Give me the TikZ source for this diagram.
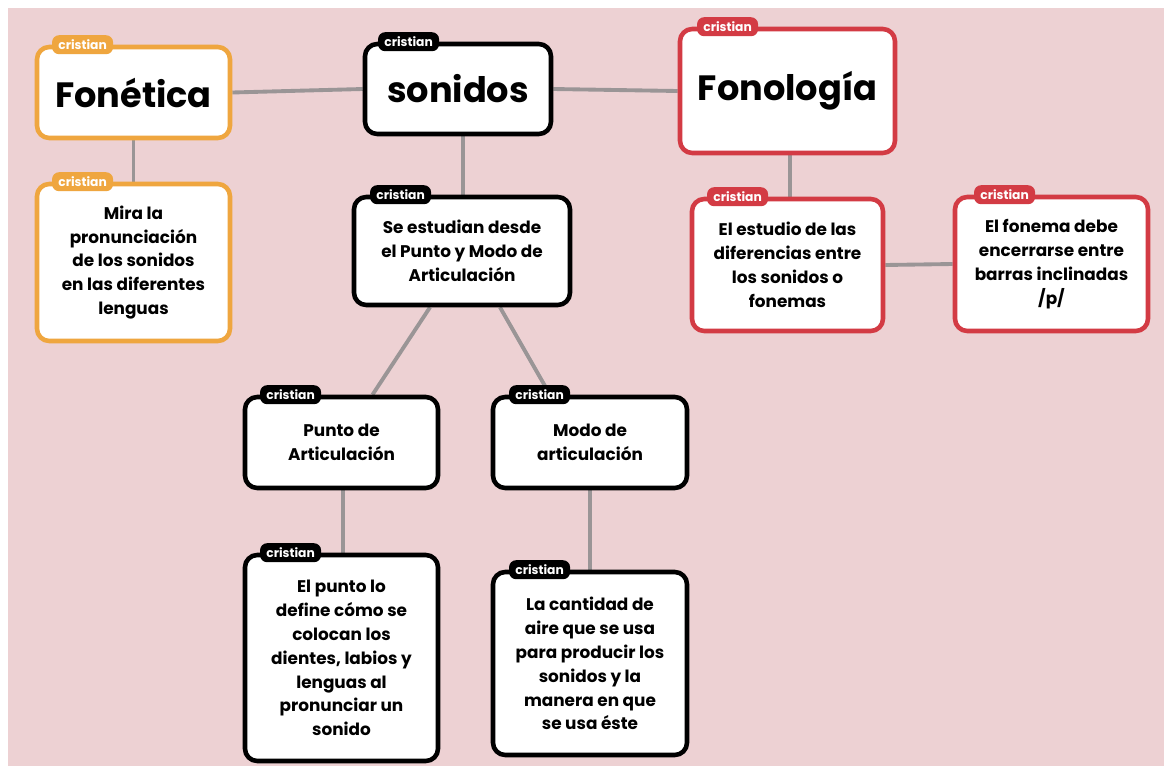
\documentclass[tikz,border=0pt]{standalone}
\usepackage{fontspec}
\setmainfont{Poppins}
\usepackage{tikz}
\usetikzlibrary{
    positioning,
    calc,
    backgrounds,
}

\definecolor{fonorange}{HTML}{EFA63F}
\definecolor{fonred}{HTML}{D33B44}
\definecolor{pinkbg}{HTML}{EDD1D3}
\definecolor{linkgray}{HTML}{9A9596}

\begin{document}
\begin{tikzpicture}[
    concept/.style={draw=#1, fill=white, line width=2.6pt, rounded
    corners=7pt, text=black, align=center, inner sep=2pt,
    font=\bfseries\fontsize{9.6}{13.6}\selectfont},
    headline/.style={concept=#1, font=\bfseries\fontsize{20}{24}\selectfont},
    nametag/.style={fill=#1, rounded corners=4pt, text=white, anchor=west,
    inner sep=1pt, minimum width=1.22cm, minimum height=0.38cm,
    font=\bfseries\fontsize{7}{8}\selectfont},
    link/.style={draw=linkgray, line width=2.2pt},
]

% CANVAS
\useasboundingbox (0,0) rectangle (23.28,-15.32);
\begin{scope}[on background layer]
\fill[white] (0,0) rectangle (23.28,-15.32);
\fill[pinkbg] (0.16,-0.16) rectangle (23.28,-15.32);
\end{scope}

% FONETICA
\node[headline=fonorange, minimum width=3.86cm, minimum height=1.82cm]
    at (2.67,-1.85) (fon) {Fonética};
\node[concept=fonorange, minimum width=3.86cm, minimum height=3.14cm]
    at (2.67,-5.25) (mira) {Mira la\\ pronunciación\\ de los sonidos\\
    en las diferentes\\ lenguas};

% SONIDOS
\node[headline=black, minimum width=3.72cm, minimum height=1.80cm]
    at (9.16,-1.78) (son) {sonidos};
\node[concept=black, minimum width=4.32cm, minimum height=2.16cm]
    at (9.24,-5.02) (estudian) {Se estudian desde\\ el Punto y Modo de\\
    Articulación};

% PUNTO / MODO
\node[concept=black, minimum width=3.86cm, minimum height=1.82cm]
    at (6.83,-8.85) (punto) {Punto de\\ Articulación};
\node[concept=black, minimum width=3.88cm, minimum height=1.82cm]
    at (11.80,-8.85) (modo) {Modo de\\ articulación};
\node[concept=black, minimum width=3.86cm, minimum height=4.12cm]
    at (6.83,-13.16) (ptdef) {El punto lo\\ define cómo se\\ colocan los\\
    dientes, labios y\\ lenguas al\\ pronunciar un\\ sonido};
\node[concept=black, minimum width=3.88cm, minimum height=3.66cm]
    at (11.80,-13.27) (cant) {La cantidad de\\ aire que se usa\\
    para producir los\\ sonidos y la\\ manera en que\\ se usa éste};

% FONOLOGIA
\node[headline=fonred, minimum width=4.30cm, minimum height=2.48cm]
    at (15.75,-1.82) (fonol) {Fonología};
\node[concept=fonred, minimum width=3.82cm, minimum height=2.64cm]
    at (15.75,-5.30) (dif) {El estudio de las\\ diferencias entre\\
    los sonidos o\\ fonemas};
\node[concept=fonred, minimum width=3.86cm, minimum height=2.68cm]
    at (21.03,-5.28) (barras) {El fonema debe\\ encerrarse entre\\
    barras inclinadas\\ /p/};

% TAGS
\node[nametag=fonorange] at ([xshift=0.34cm]fon.north west) (fontag) {cristian};
\node[nametag=fonorange] at ([xshift=0.34cm]mira.north west) (miratag) {cristian};
\node[nametag=black] at ([xshift=0.30cm]son.north west) (sontag) {cristian};
\node[nametag=black] at ([xshift=0.36cm]estudian.north west) (esttag) {cristian};
\node[nametag=black] at ([xshift=0.34cm]punto.north west) (ptotag) {cristian};
\node[nametag=black] at ([xshift=0.36cm]modo.north west) (modtag) {cristian};
\node[nametag=black] at ([xshift=0.34cm]ptdef.north west) (deftag) {cristian};
\node[nametag=black] at ([xshift=0.36cm]cant.north west) (canttag) {cristian};
\node[nametag=fonred] at ([xshift=0.38cm]fonol.north west) (foltag) {cristian};
\node[nametag=fonred] at ([xshift=0.34cm]dif.north west) (diftag) {cristian};
\node[nametag=fonred] at ([xshift=0.42cm]barras.north west) (bartag) {cristian};

% LINKS
\begin{scope}[on background layer]
\draw[link] (fon.east) -- (son.west);
\draw[link] (son.east) -- (fonol.west);
\draw[link] (fon.south) -- (mira.north);
\draw[link] ([xshift=0.1cm]son.south) -- ([xshift=0.02cm]estudian.north);
\draw[link] ([xshift=0.05cm]fonol.south) -- ([xshift=0.05cm]dif.north);
\draw[link] (dif.east) -- (barras.west);
\draw[link] ([xshift=-0.64cm]estudian.south) -- ([xshift=0.62cm]punto.north);
\draw[link] ([xshift=0.76cm]estudian.south) -- ([xshift=-0.80cm]modo.north);
\draw[link] ([xshift=0.03cm]punto.south) -- ([xshift=0.03cm]ptdef.north);
\draw[link] (modo.south) -- (cant.north);
\end{scope}

\end{tikzpicture}
\end{document}
